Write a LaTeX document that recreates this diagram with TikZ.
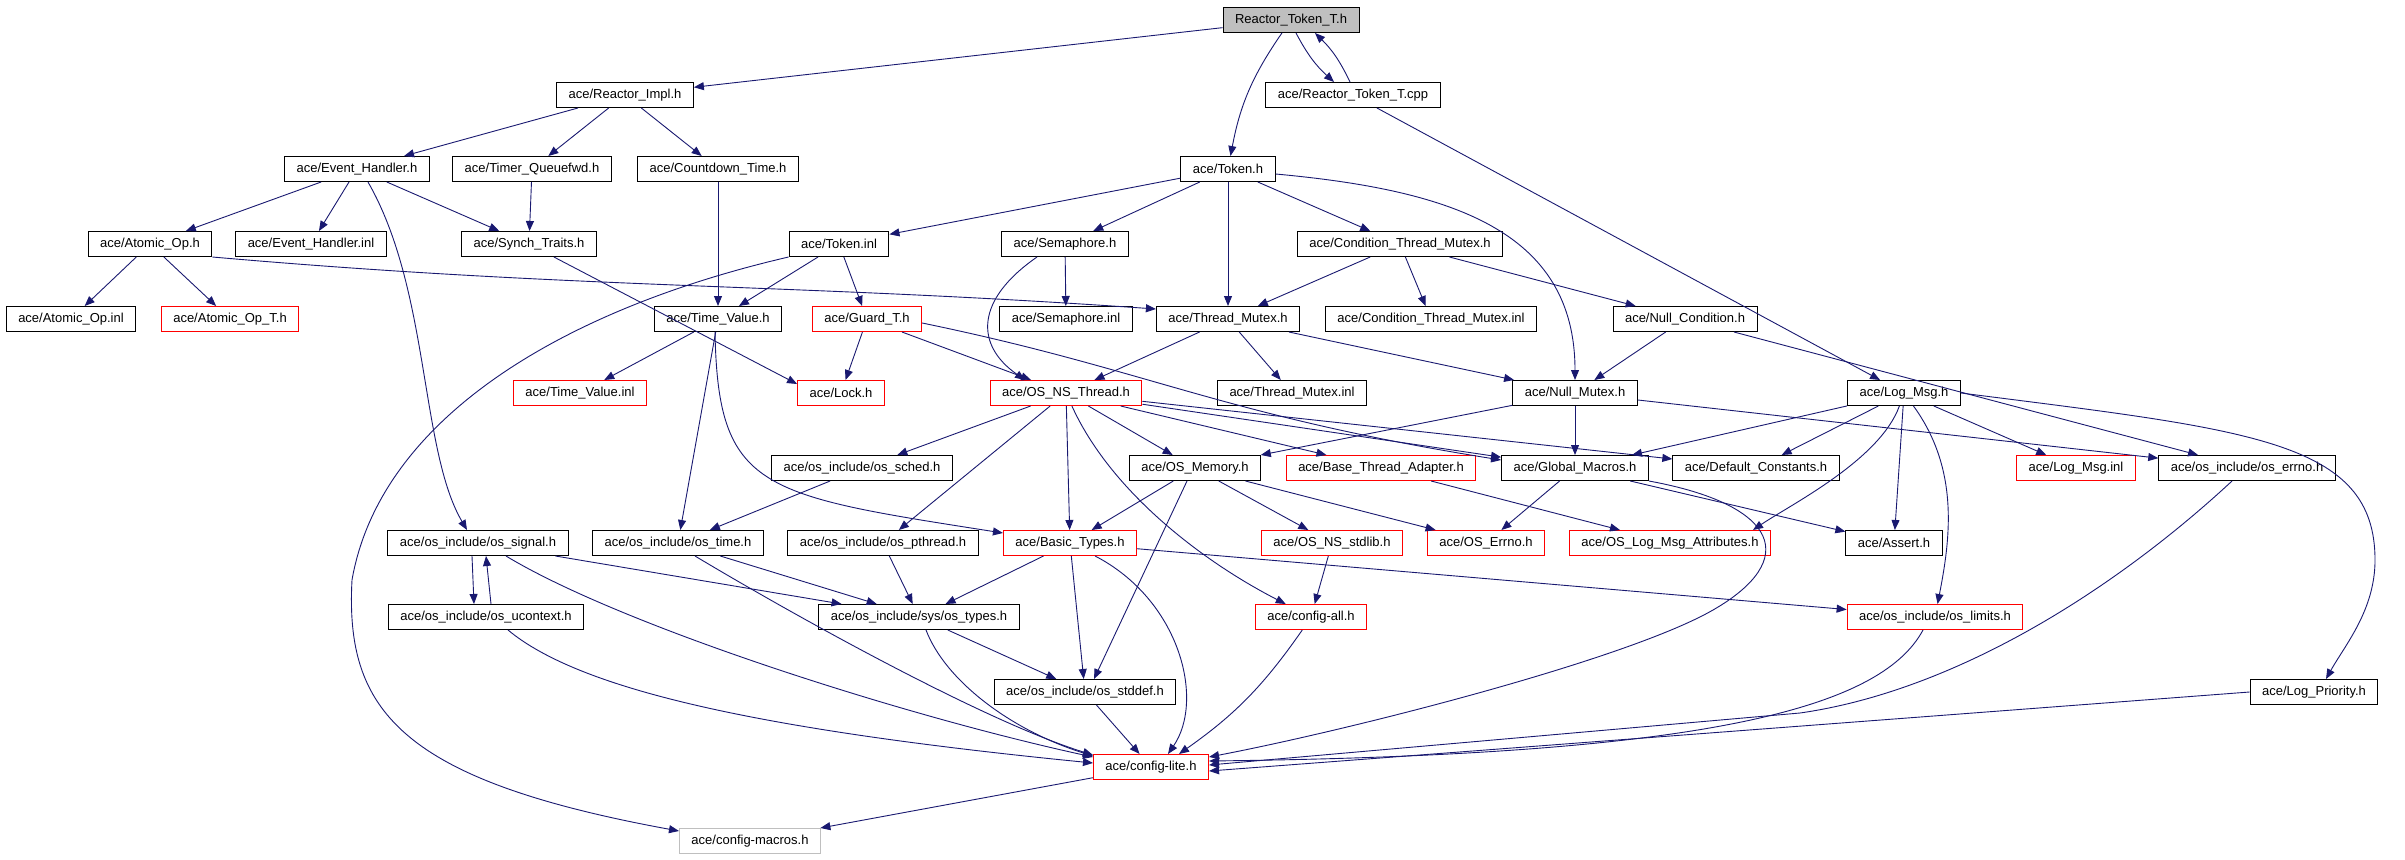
\documentclass[tikz,border=0pt]{standalone}
\usepackage{fontspec}
\newfontfamily\doxfont{Liberation Sans}
\definecolor{edgeblue}{RGB}{25, 25, 112}
\definecolor{rootgray}{RGB}{191, 191, 191}
\definecolor{boxred}{RGB}{255, 0, 0}
\usepackage{tikz}
\usetikzlibrary{arrows.meta, positioning}

\begin{document}
\begin{tikzpicture}[x=1pt, y=1pt,
    incbox/.style={draw=black, line width=1pt, font=\doxfont\fontsize{13}{15}\selectfont, minimum height=25pt, inner xsep=12pt, inner ysep=0pt},
    redbox/.style={incbox, draw=boxred},
    rootbox/.style={incbox, fill=rootgray},
    extbox/.style={incbox, draw=rootgray},
    inc/.style={draw=edgeblue, line width=0.9pt, -{Triangle[length=10pt, width=8pt]}}]
  \useasboundingbox (0,0) rectangle (2405,-859);

  % Root and first level
  \node[rootbox] (rtt) at (1291,-20) {Reactor\_Token\_T.h};
  \node[incbox] (rimpl) at (625,-95) {ace/Reactor\_Impl.h};
  \node[incbox] (rttcpp) at (1353,-95) {ace/Reactor\_Token\_T.cpp};

  % Level 2
  \node[incbox] (evh) at (357,-169) {ace/Event\_Handler.h};
  \node[incbox] (tqfwd) at (532,-169) {ace/Timer\_Queuefwd.h};
  \node[incbox] (cdtime) at (718,-169) {ace/Countdown\_Time.h};
  \node[incbox] (token) at (1228,-169) {ace/Token.h};

  % Level 3
  \node[incbox] (atomop) at (150,-244) {ace/Atomic\_Op.h};
  \node[incbox] (evhinl) at (311,-244) {ace/Event\_Handler.inl};
  \node[incbox] (synch) at (529,-244) {ace/Synch\_Traits.h};
  \node[incbox] (tokeninl) at (839,-244) {ace/Token.inl};
  \node[incbox] (sema) at (1065,-244) {ace/Semaphore.h};
  \node[incbox] (ctm) at (1400,-244) {ace/Condition\_Thread\_Mutex.h};

  % Level 4
  \node[incbox] (atominl) at (71,-319) {ace/Atomic\_Op.inl};
  \node[redbox] (atomt) at (230,-319) {ace/Atomic\_Op\_T.h};
  \node[incbox] (tval) at (718,-319) {ace/Time\_Value.h};
  \node[redbox] (guard) at (867,-319) {ace/Guard\_T.h};
  \node[incbox] (semainl) at (1066,-319) {ace/Semaphore.inl};
  \node[incbox] (tmutex) at (1228,-319) {ace/Thread\_Mutex.h};
  \node[incbox] (ctminl) at (1431,-319) {ace/Condition\_Thread\_Mutex.inl};
  \node[incbox] (nullcond) at (1685,-319) {ace/Null\_Condition.h};

  % Level 5
  \node[redbox] (tvalinl) at (580,-393) {ace/Time\_Value.inl};
  \node[redbox] (lock) at (841,-393) {ace/Lock.h};
  \node[redbox] (osthr) at (1066,-393) {ace/OS\_NS\_Thread.h};
  \node[incbox] (tmutexinl) at (1292,-393) {ace/Thread\_Mutex.inl};
  \node[incbox] (nullmutex) at (1575,-393) {ace/Null\_Mutex.h};
  \node[incbox] (logmsg) at (1904,-393) {ace/Log\_Msg.h};

  % Level 6
  \node[incbox] (sched) at (862,-468) {ace/os\_include/os\_sched.h};
  \node[incbox] (osmem) at (1195,-468) {ace/OS\_Memory.h};
  \node[redbox] (bta) at (1381,-468) {ace/Base\_Thread\_Adapter.h};
  \node[incbox] (glob) at (1575,-468) {ace/Global\_Macros.h};
  \node[incbox] (defc) at (1756,-468) {ace/Default\_Constants.h};
  \node[redbox] (logmsginl) at (2076,-468) {ace/Log\_Msg.inl};
  \node[incbox] (errnoh) at (2247,-468) {ace/os\_include/os\_errno.h};

  % Level 7
  \node[incbox] (signal) at (478,-543) {ace/os\_include/os\_signal.h};
  \node[incbox] (ostime) at (678,-543) {ace/os\_include/os\_time.h};
  \node[incbox] (pthread) at (883,-543) {ace/os\_include/os\_pthread.h};
  \node[redbox] (btypes) at (1070,-543) {ace/Basic\_Types.h};
  \node[redbox] (stdlib) at (1332,-543) {ace/OS\_NS\_stdlib.h};
  \node[redbox] (oserrno) at (1486,-543) {ace/OS\_Errno.h};
  \node[redbox] (oslma) at (1670,-543) {ace/OS\_Log\_Msg\_Attributes.h};
  \node[incbox] (assert) at (1894,-543) {ace/Assert.h};

  % Level 8 and below
  \node[incbox] (ucontext) at (486,-617) {ace/os\_include/os\_ucontext.h};
  \node[incbox] (ostypes) at (919,-617) {ace/os\_include/sys/os\_types.h};
  \node[redbox] (cfgall) at (1311,-617) {ace/config-all.h};
  \node[redbox] (limits) at (1935,-617) {ace/os\_include/os\_limits.h};
  \node[incbox] (stddef) at (1085,-692) {ace/os\_include/os\_stddef.h};
  \node[incbox] (logprio) at (2314,-692) {ace/Log\_Priority.h};
  \node[redbox] (cfglite) at (1151,-767) {ace/config-lite.h};
  \node[extbox] (cfgmacros) at (750,-841) {ace/config-macros.h};

  % Root includes
  \draw[inc] (rtt) -- (rimpl);
  \draw[inc] (rtt) to[bend right=12] (token);
  \draw[inc] ([xshift=5pt]rtt.south) to[bend right=10] ([xshift=-19pt]rttcpp.north);
  \draw[inc] ([xshift=-3pt]rttcpp.north) to[bend right=10] ([xshift=24pt]rtt.south);
  \draw[inc] (rttcpp) -- (logmsg);

  % Reactor_Impl
  \draw[inc] (rimpl) -- (evh);
  \draw[inc] (rimpl) -- (tqfwd);
  \draw[inc] (rimpl) -- (cdtime);

  % Event_Handler
  \draw[inc] (evh) -- (atomop);
  \draw[inc] (evh) -- (evhinl);
  \draw[inc] (evh) -- (synch);
  \draw[inc] ([xshift=11pt]evh.south) .. controls (430,-290) and (420,-450) .. ([xshift=-11pt]signal.north);
  \draw[inc] (tqfwd) -- (synch);
  \draw[inc] (cdtime) -- (tval);

  % Atomic_Op, Synch_Traits
  \draw[inc] (atomop) -- (atominl);
  \draw[inc] (atomop) -- (atomt);
  \draw[inc] (atomop.south east) to[out=-5, in=176] ([yshift=10pt]tmutex.west);
  \draw[inc] (synch) -- ([yshift=9pt]lock.west);

  % Token
  \draw[inc] (token) -- (tokeninl);
  \draw[inc] (token) -- (sema);
  \draw[inc] (token) -- (tmutex);
  \draw[inc] (token) -- (ctm);
  \draw[inc] ([yshift=-5pt]token.east) .. controls (1450,-190) and (1575,-230) .. (nullmutex.north);

  % Token.inl
  \draw[inc] (tokeninl) -- (tval);
  \draw[inc] (tokeninl) -- (guard);
  \draw[inc] (tokeninl.south west) .. controls (560,-310) and (380,-420) .. (352,-580)
    .. controls (345,-710) and (400,-780) .. ([yshift=10pt]cfgmacros.west);

  % Semaphore, Condition_Thread_Mutex
  \draw[inc] (sema) -- (semainl);
  \draw[inc] ([xshift=-28pt]sema.south) .. controls (975,-300) and (975,-345) .. ([xshift=-41pt]osthr.north);
  \draw[inc] (ctm) -- (tmutex);
  \draw[inc] (ctm) -- (ctminl);
  \draw[inc] (ctm) -- (nullcond);

  % Time_Value, Guard_T
  \draw[inc] (tval) -- (tvalinl);
  \draw[inc] (tval) -- (ostime);
  \draw[inc] ([xshift=-3pt]tval.south) .. controls (718,-490) and (760,-495) .. ([yshift=10pt]btypes.west);
  \draw[inc] (guard) -- (lock);
  \draw[inc] (guard) -- (osthr);
  \draw[inc] ([yshift=-4pt]guard.east) .. controls (1150,-370) and (1220,-415) .. ([yshift=8pt]glob.west);

  % Thread_Mutex, Null_Condition
  \draw[inc] (tmutex) -- (osthr);
  \draw[inc] (tmutex) -- (tmutexinl);
  \draw[inc] (tmutex) -- (nullmutex);
  \draw[inc] (nullcond) -- (nullmutex);
  \draw[inc] (nullcond) -- (errnoh);

  % OS_NS_Thread
  \draw[inc] (osthr) -- (sched);
  \draw[inc] (osthr) -- (pthread);
  \draw[inc] (osthr) -- (btypes);
  \draw[inc] (osthr) -- (osmem);
  \draw[inc] (osthr) -- (bta);
  \draw[inc] (osthr) -- (glob);
  \draw[inc] (osthr) -- (defc);
  \draw[inc] (osthr) .. controls (1110,-490) and (1200,-560) .. (cfgall);

  % Null_Mutex
  \draw[inc] (nullmutex) -- (osmem);
  \draw[inc] (nullmutex) -- (glob);
  \draw[inc] (nullmutex) -- (errnoh);

  % Log_Msg
  \draw[inc] (logmsg) -- (glob);
  \draw[inc] (logmsg) -- (defc);
  \draw[inc] (logmsg) .. controls (1880,-460) and (1790,-505) .. ([xshift=83pt]oslma.north);
  \draw[inc] (logmsg) -- (assert);
  \draw[inc] (logmsg) .. controls (1960,-470) and (1950,-540) .. (limits);
  \draw[inc] (logmsg) -- (logmsginl);
  \draw[inc] (logmsg.east) .. controls (2250,-430) and (2375,-440) .. (2375,-560)
    .. controls (2375,-610) and (2345,-645) .. ([xshift=12pt]logprio.north);

  % Global_Macros, Base_Thread_Adapter
  \draw[inc] (glob) -- (oserrno);
  \draw[inc] (glob) -- (assert);
  \draw[inc] (glob.south east) .. controls (1780,-505) and (1800,-560) .. (1713,-610)
    .. controls (1626,-660) and (1350,-730) .. ([yshift=10pt]cfglite.east);
  \draw[inc] (bta) -- (oslma);

  % OS_Memory
  \draw[inc] (osmem) -- (stdlib);
  \draw[inc] (osmem) -- (oserrno);
  \draw[inc] (osmem) -- (btypes);
  \draw[inc] ([xshift=-8pt]osmem.south) -- ([xshift=9pt]stddef.north);
  \draw[inc] (stdlib) -- (cfgall);
  \draw[inc] (cfgall) to[bend left=10] ([xshift=28pt]cfglite.north);

  % Basic_Types
  \draw[inc] (btypes) -- (ostypes);
  \draw[inc] (btypes) -- (stddef);
  \draw[inc] (btypes) -- (limits);
  \draw[inc] (btypes) .. controls (1180,-600) and (1205,-700) .. ([xshift=17pt]cfglite.north);

  % os_include headers
  \draw[inc] (sched) -- (ostime);
  \draw[inc] (ostime) -- (ostypes);
  \draw[inc] ([xshift=17pt]ostime.south) .. controls (780,-607) and (980,-720) .. ([yshift=12pt]cfglite.west);
  \draw[inc] (pthread) -- (ostypes);
  \draw[inc] (signal) -- (ostypes);
  \draw[inc] ([xshift=-6pt]signal.south) -- ([xshift=-12pt]ucontext.north);
  \draw[inc] ([xshift=5pt]ucontext.north) -- ([xshift=8pt]signal.south);
  \draw[inc] ([xshift=28pt]signal.south) .. controls (620,-625) and (900,-715) .. ([yshift=10pt]cfglite.west);
  \draw[inc] ([xshift=22pt]ucontext.south) .. controls (580,-690) and (760,-730) .. ([yshift=4pt]cfglite.west);
  \draw[inc] (ostypes) -- (stddef);
  \draw[inc] ([xshift=7pt]ostypes.south) .. controls (945,-680) and (1010,-730) .. ([yshift=11pt]cfglite.west);
  \draw[inc] (stddef) -- (cfglite);

  % Right hand side into config-lite
  \draw[inc] ([xshift=-12pt]limits.south) .. controls (1880,-710) and (1700,-755) .. ([yshift=6pt]cfglite.east);
  \draw[inc] ([xshift=-15pt]errnoh.south) .. controls (2120,-585) and (1960,-690) .. (1800,-713) -- ([yshift=2pt]cfglite.east);
  \draw[inc] (logprio.west) -- ([yshift=-4pt]cfglite.east);

  % config-lite
  \draw[inc] (cfglite) -- (cfgmacros);
\end{tikzpicture}
\end{document}
